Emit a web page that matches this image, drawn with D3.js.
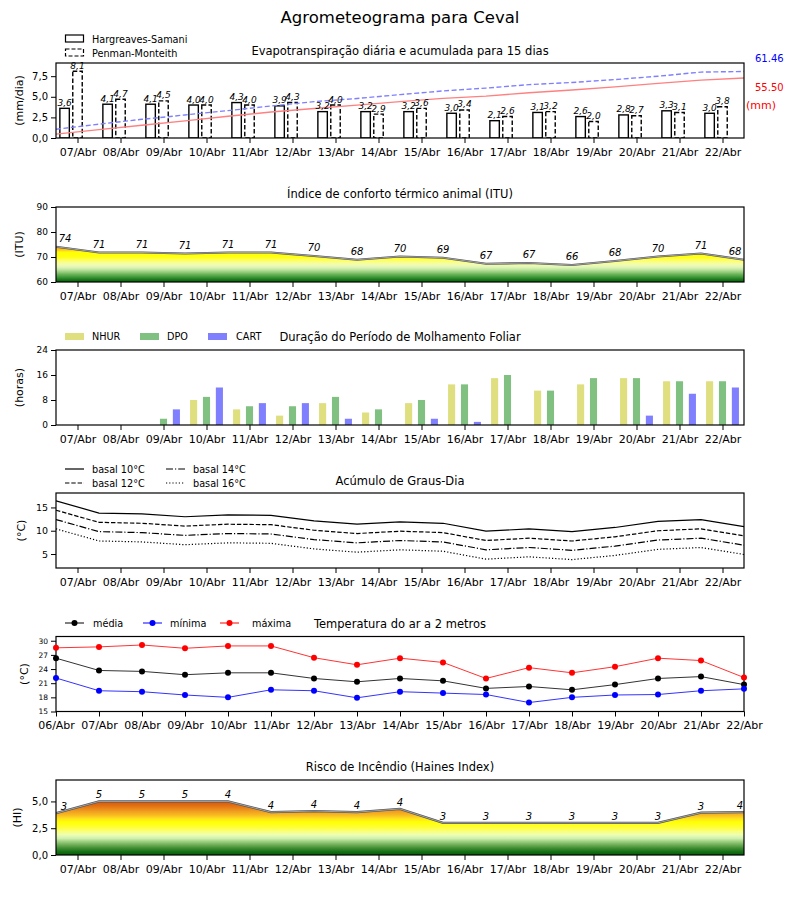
<!DOCTYPE html>
<html>
<head>
<meta charset="utf-8">
<script src="https://cdn.jsdelivr.net/npm/d3@7"></script>
<style>
body { margin: 0; background: #fff; }
svg { font-family: "DejaVu Sans", sans-serif; }
</style>
</head>
<body>
<svg id="chart" width="800" height="900"></svg>
<script>
// dias (meia-noite de cada dia)
let dayLabels = ["06/Abr", "07/Abr", "08/Abr", "09/Abr", "10/Abr", "11/Abr", "12/Abr", "13/Abr", "14/Abr",
  "15/Abr", "16/Abr", "17/Abr", "18/Abr", "19/Abr", "20/Abr", "21/Abr", "22/Abr"];

// evapotranspiracao diaria (07 a 22/Abr) e acumulada
let etHS = [3.6, 4.1, 4.1, 4.0, 4.3, 3.9, 3.2, 3.2, 3.2, 3.0, 2.1, 3.1, 2.6, 2.8, 3.3, 3.0];
let etPM = [8.1, 4.7, 4.5, 4.0, 4.0, 4.3, 4.0, 2.9, 3.6, 3.4, 2.6, 3.2, 2.0, 2.7, 3.1, 3.8];
let etCumHS = [3.6, 7.7, 11.8, 15.8, 20.1, 24.0, 27.2, 30.4, 33.6, 36.6, 38.7, 41.8, 44.4, 47.2, 50.5, 53.5, 55.5];
let etCumPM = [8.1, 12.8, 17.3, 21.3, 25.3, 29.6, 33.6, 36.5, 40.1, 43.5, 46.1, 49.3, 51.3, 54.0, 57.1, 60.9, 61.46];

// ITU
let ituVal = [74.1, 71.8, 71.8, 71.4, 71.8, 71.8, 70.4, 68.9, 70.2, 69.7, 67.3, 67.6, 66.8, 68.4, 70.2, 71.4, 68.9];
let ituLbl = [74, 71, 71, 71, 71, 71, 70, 68, 70, 69, 67, 67, 66, 68, 70, 71, 68];

// molhamento foliar (horas)
let molhNHUR = [0, 0, 0, 8, 5, 3, 7, 4, 7, 13, 15, 11, 13, 15, 14, 14];
let molhDPO = [0, 0, 2, 9, 6, 6, 9, 5, 8, 13, 16, 11, 15, 15, 14, 14];
let molhCART = [0, 0, 5, 12, 7, 7, 2, 0, 2, 1, 0, 0, 0, 3, 10, 12];

// graus-dia
let gd10 = [16.4, 13.8, 13.6, 13.0, 13.4, 13.3, 12.1, 11.4, 11.9, 11.6, 9.9, 10.4, 9.8, 10.7, 12.0, 12.4, 10.9];
let gd12 = [14.4, 11.8, 11.6, 11.0, 11.4, 11.3, 10.1, 9.4, 9.9, 9.6, 7.9, 8.4, 7.8, 8.7, 10.0, 10.4, 8.9];
let gd14 = [12.4, 9.8, 9.6, 9.0, 9.4, 9.3, 8.1, 7.4, 7.9, 7.6, 5.9, 6.4, 5.8, 6.7, 8.0, 8.4, 6.9];
let gd16 = [10.4, 7.8, 7.6, 7.0, 7.4, 7.3, 6.1, 5.4, 5.9, 5.6, 3.9, 4.4, 3.8, 4.7, 6.0, 6.4, 4.9];

// temperatura do ar
let tMedia = [26.3, 23.7, 23.5, 22.8, 23.2, 23.2, 22.0, 21.3, 22.0, 21.5, 19.9, 20.3, 19.6, 20.7, 22.0, 22.4, 20.7];
let tMin = [22.1, 19.4, 19.2, 18.5, 18.0, 19.6, 19.4, 17.9, 19.2, 18.9, 18.6, 16.9, 18.0, 18.5, 18.6, 19.4, 19.8];
let tMax = [28.5, 28.7, 29.1, 28.4, 28.9, 28.9, 26.4, 24.9, 26.3, 25.4, 22.0, 24.3, 23.2, 24.5, 26.3, 25.8, 22.2];

// Haines
let hainesVal = [3.9, 5.0, 5.0, 5.0, 5.0, 4.0, 4.1, 4.0, 4.3, 3.0, 3.0, 3.0, 3.0, 3.0, 3.0, 3.95, 4.0];
let hainesLbl = [3, 5, 5, 5, 4, 4, 4, 4, 4, 3, 3, 3, 3, 3, 3, 3, 4];

let svg = d3.select('#chart');
let left = 56, right = 744, ph = 75;
let x = d3.scaleLinear().domain([0, 16]).range([left, right]);
let noon = d3.range(16).map(i => i + 0.5);
let comma = d => d3.format('.1f')(d).replace('.', ',');
let uid = 0;

let panel = (top, dom, ticks, fmt, fs, label, lx, noonTicks) => {
  let y = d3.scaleLinear().domain(dom).range([top + ph, top]);
  let g = svg.append('g');
  let id = 'clip' + (uid++);
  g.append('clipPath').attr('id', id)
    .append('rect').attr('x', left).attr('y', top).attr('width', right - left).attr('height', ph);
  let plot = g.append('g').attr('clip-path', 'url(#' + id + ')');

  let xAxis = d3.axisBottom(x)
    .tickValues(noonTicks ? noon : d3.range(17))
    .tickSize(5).tickPadding(5)
    .tickFormat(d => dayLabels[Math.round(noonTicks ? d + 0.5 : d)]);
  let ax = g.append('g').attr('transform', 'translate(0,' + (top + ph) + ')').call(xAxis);
  ax.selectAll('text').attr('font-size', 11).attr('font-family', 'DejaVu Sans').attr('fill', '#000');

  let yAxis = d3.axisLeft(y).tickValues(ticks).tickSize(5).tickPadding(3).tickFormat(fmt);
  let ay = g.append('g').attr('transform', 'translate(' + left + ',0)').call(yAxis);
  ay.selectAll('text').attr('font-size', fs).attr('font-family', 'DejaVu Sans').attr('fill', '#000');
  g.selectAll('.domain').remove();

  g.append('rect').attr('x', left).attr('y', top).attr('width', right - left).attr('height', ph)
    .attr('fill', 'none').attr('stroke', '#000').attr('stroke-width', 1.2);

  g.append('text').attr('transform', 'translate(' + lx + ',' + (top + ph / 2) + ') rotate(-90)')
    .attr('text-anchor', 'middle').attr('dy', '0.35em').attr('font-size', 11).text(label);
  return { g: g, plot: plot, y: y };
}

let title = (txt, yy, size) => {
  svg.append('text').attr('x', 400).attr('y', yy).attr('text-anchor', 'middle')
    .attr('font-size', size).text(txt);
}

let gradient = (id, y, stops) => {
  let lg = svg.append('defs').append('linearGradient').attr('id', id)
    .attr('gradientUnits', 'userSpaceOnUse')
    .attr('x1', 0).attr('x2', 0)
    .attr('y1', y(stops[0][0])).attr('y2', y(stops[stops.length - 1][0]));
  let v0 = stops[0][0], v1 = stops[stops.length - 1][0];
  stops.forEach(s => {
    lg.append('stop').attr('offset', (s[0] - v0) / (v1 - v0)).attr('stop-color', s[1]);
  });
}

title('Agrometeograma para Ceval', 23, 16.5);

// ---------- 1: evapotranspiracao ----------
let p1 = panel(63, [0, 9.1], [0, 2.5, 5, 7.5], comma, 10, '(mm/dia)', 19, true);
let yCum = d3.scaleLinear().domain([0, 69.3]).range([138, 63]);
title('Evapotranspiração diária e acumulada para 15 dias', 55, 11.5);

let bw = 0.22;
p1.plot.selectAll('.hs').data(etHS).enter().append('rect')
  .attr('x', (d, i) => x(i + 0.5 - 0.3 - bw / 2))
  .attr('width', x(bw) - x(0))
  .attr('y', d => p1.y(d))
  .attr('height', d => p1.y(0) - p1.y(d))
  .attr('fill', '#fff').attr('stroke', '#000').attr('stroke-width', 1.4);
p1.plot.selectAll('.pm').data(etPM).enter().append('rect')
  .attr('x', (d, i) => x(i + 0.5 - bw / 2))
  .attr('width', x(bw) - x(0))
  .attr('y', d => p1.y(d))
  .attr('height', d => p1.y(0) - p1.y(d))
  .attr('fill', '#fff').attr('stroke', '#000').attr('stroke-width', 1.4)
  .attr('stroke-dasharray', '4.5,2.2');

let cumLine = d3.line().x((d, i) => x(i)).y(d => yCum(d));
p1.plot.append('path').datum(etCumHS).attr('d', cumLine)
  .attr('fill', 'none').attr('stroke', '#ff8080').attr('stroke-width', 1.4);
p1.plot.append('path').datum(etCumPM).attr('d', cumLine)
  .attr('fill', 'none').attr('stroke', '#8080ff').attr('stroke-width', 1.4).attr('stroke-dasharray', '5,2.5');

p1.g.selectAll('.lhs').data(etHS).enter().append('text')
  .attr('x', (d, i) => x(i + 0.5 - 0.3)).attr('y', d => p1.y(d) - 2.5)
  .attr('text-anchor', 'middle').attr('font-size', 9).attr('font-style', 'italic').text(d => comma(d));
p1.g.selectAll('.lpm').data(etPM).enter().append('text')
  .attr('x', (d, i) => x(i + 0.5)).attr('y', d => p1.y(d) - 2.5)
  .attr('text-anchor', 'middle').attr('font-size', 9).attr('font-style', 'italic').text(d => comma(d));

svg.append('text').attr('x', 755).attr('y', 62).attr('font-size', 10).attr('fill', '#0000ff')
  .text(d3.format('.2f')(etCumPM[16]));
svg.append('text').attr('x', 755).attr('y', 91).attr('font-size', 10).attr('fill', '#ff0000')
  .text(d3.format('.2f')(etCumHS[16]));
svg.append('text').attr('x', 746).attr('y', 109).attr('font-size', 11).attr('fill', '#ff0000').text('(mm)');

// legenda
svg.append('rect').attr('x', 65.5).attr('y', 35).attr('width', 18).attr('height', 7)
  .attr('fill', '#fff').attr('stroke', '#000').attr('stroke-width', 1.2);
svg.append('rect').attr('x', 65.5).attr('y', 49).attr('width', 18).attr('height', 7)
  .attr('fill', '#fff').attr('stroke', '#000').attr('stroke-width', 1.2).attr('stroke-dasharray', '4,2');
svg.append('text').attr('x', 92).attr('y', 42.5).attr('font-size', 9.7).text('Hargreaves-Samani');
svg.append('text').attr('x', 92).attr('y', 56.5).attr('font-size', 9.7).text('Penman-Monteith');

// ---------- 2: ITU ----------
let p2 = panel(207, [60, 90], [60, 70, 80, 90], d3.format('d'), 9, '(ITU)', 19, true);
title('Índice de conforto térmico animal (ITU)', 198, 11.5);
gradient('gItu', p2.y, [
  [60, '#005c00'], [61, '#1c7a1c'], [62, '#3f983c'], [63, '#68b256'], [64, '#98cd7e'],
  [65, '#c2e6a2'], [66, '#e2f6b8'], [67, '#f2fcae'], [68, '#f9ff86'], [69, '#ffff4c'],
  [70, '#ffff10'], [72, '#ffff00'], [72.6, '#ffd21e'], [74, '#f2a22c'], [76, '#e07020']
]);
p2.plot.append('path').datum(ituVal)
  .attr('d', d3.area().x((d, i) => x(i)).y0(p2.y(60)).y1(d => p2.y(d)))
  .attr('fill', 'url(#gItu)');
let ituLine = d3.line().x((d, i) => x(i)).y(d => p2.y(d));
p2.plot.append('path').datum(ituVal).attr('d', ituLine)
  .attr('fill', 'none').attr('stroke', '#555').attr('stroke-width', 2.2);
p2.plot.append('path').datum(ituVal).attr('d', ituLine)
  .attr('fill', 'none').attr('stroke', '#aaa').attr('stroke-width', 0.9);
p2.g.selectAll('.li').data(ituLbl).enter().append('text')
  .attr('x', (d, i) => Math.min(Math.max(x(i), left + 9), right - 9))
  .attr('y', (d, i) => p2.y(ituVal[i]) - 5)
  .attr('text-anchor', 'middle').attr('font-size', 10).attr('font-style', 'italic').text(d => d);

// ---------- 3: molhamento ----------
let p3 = panel(350, [0, 24], [0, 8, 16, 24], d3.format('d'), 9, '(horas)', 19, true);
title('Duração do Período de Molhamento Foliar', 341, 11.5);
let mw = 0.165;
let molh = [[molhNHUR, -0.3, '#dfdf80', 'NHUR'], [molhDPO, 0, '#80c080', 'DPO'], [molhCART, 0.3, '#8080ff', 'CART']];
molh.forEach(m => {
  p3.plot.selectAll(null).data(m[0]).enter().append('rect')
    .attr('x', (d, i) => x(i + 0.5 + m[1] - mw / 2))
    .attr('width', x(mw) - x(0))
    .attr('y', d => p3.y(d))
    .attr('height', d => p3.y(0) - p3.y(d))
    .attr('fill', m[2]);
});
let legX3 = [[65, 92], [140, 167], [208, 236]];
molh.forEach((m, k) => {
  svg.append('rect').attr('x', legX3[k][0]).attr('y', 333).attr('width', 19).attr('height', 7).attr('fill', m[2]);
  svg.append('text').attr('x', legX3[k][1]).attr('y', 340).attr('font-size', 9.7).text(m[3]);
});

// ---------- 4: graus-dia ----------
let p4 = panel(493, [2, 18.1], [5, 10, 15], d3.format('d'), 9.5, '(°C)', 21, true);
title('Acúmulo de Graus-Dia', 485, 11.5);
let gdLine = d3.line().x((d, i) => x(i)).y(d => p4.y(d));
let gds = [[gd10, null, 'basal 10°C', 65, 469], [gd12, '4.4,1.9', 'basal 12°C', 65, 483],
  [gd14, '7,2,1.2,2', 'basal 14°C', 166, 469], [gd16, '1.2,2', 'basal 16°C', 166, 483]];
gds.forEach(s => {
  p4.plot.append('path').datum(s[0]).attr('d', gdLine)
    .attr('fill', 'none').attr('stroke', '#000').attr('stroke-width', 1.2)
    .attr('stroke-dasharray', s[1]);
  svg.append('line').attr('x1', s[3]).attr('x2', s[3] + 19).attr('y1', s[4]).attr('y2', s[4])
    .attr('stroke', '#000').attr('stroke-width', 1.2).attr('stroke-dasharray', s[1]);
  svg.append('text').attr('x', s[3] + 27).attr('y', s[4] + 3.5).attr('font-size', 9.7).text(s[2]);
});

// ---------- 5: temperatura ----------
let p5 = panel(636.5, [15, 30.9], [15, 18, 21, 24, 27, 30], d3.format('d'), 7.5, '(°C)', 24, false);
title('Temperatura do ar a 2 metros', 628, 11.5);
let tLine = d3.line().x((d, i) => x(i)).y(d => p5.y(d));
let temps = [[tMedia, '#000', 'média', 65, 93], [tMin, '#0000ff', 'mínima', 143, 170], [tMax, '#ff0000', 'máxima', 220, 252]];
temps.forEach(s => {
  p5.g.append('path').datum(s[0]).attr('d', tLine)
    .attr('fill', 'none').attr('stroke', s[1]).attr('stroke-width', 1).attr('stroke-opacity', 0.8);
  p5.g.selectAll(null).data(s[0]).enter().append('circle')
    .attr('cx', (d, i) => x(i)).attr('cy', d => p5.y(d)).attr('r', 3).attr('fill', s[1]);
  svg.append('line').attr('x1', s[3]).attr('x2', s[3] + 19).attr('y1', 623).attr('y2', 623)
    .attr('stroke', s[1]).attr('stroke-width', 1);
  svg.append('circle').attr('cx', s[3] + 9.5).attr('cy', 623).attr('r', 3).attr('fill', s[1]);
  svg.append('text').attr('x', s[4]).attr('y', 626.5).attr('font-size', 9.7).text(s[2]);
});

// ---------- 6: Haines ----------
let p6 = panel(780, [0, 7], [0, 2.5, 5], comma, 10, '(HI)', 17, true);
title('Risco de Incêndio (Haines Index)', 771, 11.5);
gradient('gHai', p6.y, [
  [0, '#045c04'], [0.3, '#167016'], [0.6, '#3a8a30'], [0.9, '#68a850'], [1.25, '#9ccf80'],
  [1.55, '#d0f0b0'], [1.9, '#eeffb0'], [2.2, '#f8ff80'], [2.5, '#ffff40'], [3.1, '#ffff00'],
  [3.4, '#ffe020'], [3.75, '#f8b820'], [4.05, '#f0a020'], [4.4, '#e88018'], [4.7, '#e06810'], [5.2, '#d45010']
]);
p6.plot.append('path').datum(hainesVal)
  .attr('d', d3.area().x((d, i) => x(i)).y0(p6.y(0)).y1(d => p6.y(d)))
  .attr('fill', 'url(#gHai)');
let hLine = d3.line().x((d, i) => x(i)).y(d => p6.y(d));
p6.plot.append('path').datum(hainesVal).attr('d', hLine)
  .attr('fill', 'none').attr('stroke', '#555').attr('stroke-width', 2.2);
p6.plot.append('path').datum(hainesVal).attr('d', hLine)
  .attr('fill', 'none').attr('stroke', '#aaa').attr('stroke-width', 0.9);
p6.g.selectAll('.lh').data(hainesLbl).enter().append('text')
  .attr('x', (d, i) => Math.min(Math.max(x(i), left + 8), right - 4))
  .attr('y', (d, i) => p6.y(hainesVal[i]) - 3)
  .attr('text-anchor', 'middle').attr('font-size', 10).attr('font-style', 'italic').text(d => d);
</script>
</body>
</html>
